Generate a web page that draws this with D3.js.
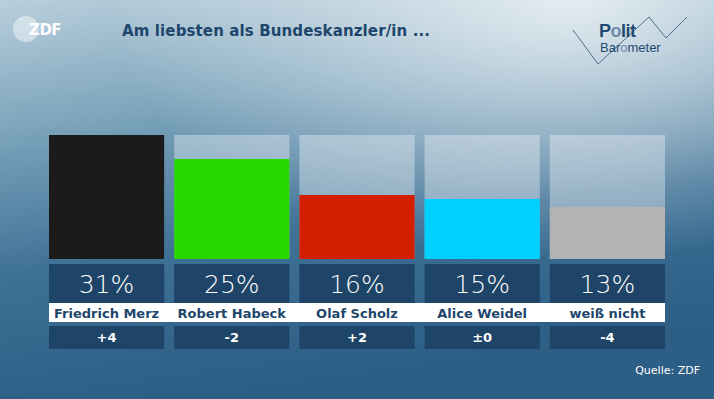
<!DOCTYPE html>
<html>
<head>
<meta charset="utf-8">
<script src="https://cdn.jsdelivr.net/npm/d3@7"></script>
<style>
html, body { margin: 0; padding: 0; overflow: hidden; }
svg { display: block; font-family: "DejaVu Sans", sans-serif; }
</style>
</head>
<body>
<div id="chart"></div>
<script>
// data
const names = ['Friedrich Merz', 'Robert Habeck', 'Olaf Scholz', 'Alice Weidel', 'weiß nicht'];
const values = [31, 25, 16, 15, 13];
const changes = ['+4', '-2', '+2', '±0', '-4'];
const colors = ['#1b1b1b', '#28d700', '#d41e00', '#00d0ff', '#b3b3b3'];

const width = 714, height = 399;
const svg = d3.select('#chart').append('svg')
	.attr('width', width)
	.attr('height', height);

const defs = svg.append('defs');
const bg = defs.append('linearGradient')
	.attr('id', 'bg')
	.attr('x1', 0).attr('y1', 0).attr('x2', 0.25).attr('y2', 1);
bg.append('stop').attr('offset', '0%').attr('stop-color', '#b9cfdc');
bg.append('stop').attr('offset', '30%').attr('stop-color', '#7ea6bd');
bg.append('stop').attr('offset', '65%').attr('stop-color', '#3f7196');
bg.append('stop').attr('offset', '100%').attr('stop-color', '#2c5e86');

const glow = defs.append('radialGradient')
	.attr('id', 'glow')
	.attr('cx', 0.8).attr('cy', 0.0).attr('r', 0.65);
glow.append('stop').attr('offset', '0%').attr('stop-color', '#ffffff').attr('stop-opacity', 0.75);
glow.append('stop').attr('offset', '100%').attr('stop-color', '#ffffff').attr('stop-opacity', 0);

svg.append('rect').attr('width', width).attr('height', height).attr('fill', 'url(#bg)');
svg.append('rect').attr('width', width).attr('height', height).attr('fill', 'url(#glow)');

// ZDF logo
const logo = svg.append('g').attr('transform', 'translate(26,29)');
logo.append('circle').attr('r', 13).attr('fill', '#ffffff').attr('fill-opacity', 0.45);
logo.append('text')
	.attr('x', 3).attr('y', 5.5)
	.attr('fill', '#ffffff')
	.attr('font-size', 15)
	.attr('font-weight', 'bold')
	.attr('letter-spacing', -0.5)
	.text('ZDF');

// title
svg.append('text')
	.attr('x', 122).attr('y', 36)
	.attr('fill', '#1e466b')
	.attr('font-size', 15)
	.attr('font-weight', 'bold')
	.attr('textLength', 308)
	.text('Am liebsten als Bundeskanzler/in ...');

// Politbarometer logo
const pb = svg.append('g');
pb.append('polyline')
	.attr('points', '573,30 598,64 649,17 666,38 687,17')
	.attr('fill', 'none')
	.attr('stroke', '#52708c')
	.attr('stroke-width', 1);
const polit = pb.append('text')
	.attr('x', 599).attr('y', 37)
	.attr('fill', '#1f4b73')
	.attr('font-family', '"Liberation Sans", Arial, sans-serif')
	.attr('font-size', 18)
	.attr('font-weight', 'bold')
	.attr('letter-spacing', -0.5);
polit.append('tspan').text('P');
polit.append('tspan').attr('fill', '#6f8ca8').text('o');
polit.append('tspan').text('lit');
const baro = pb.append('text')
	.attr('x', 600).attr('y', 52)
	.attr('fill', '#1f4b73')
	.attr('font-family', '"Liberation Sans", Arial, sans-serif')
	.attr('font-size', 13);
baro.append('tspan').text('Bar');
baro.append('tspan').attr('fill', '#6f8ca8').text('o');
baro.append('tspan').text('meter');

// scales
const x = d3.scaleBand()
	.domain(names)
	.range([49, 665])
	.paddingInner(10 / 125)
	.paddingOuter(0);
const y = d3.scaleLinear()
	.domain([0, d3.max(values)])
	.range([259, 135]);

// white name band
svg.append('rect')
	.attr('x', x(names[0]))
	.attr('y', 303)
	.attr('width', x(names[names.length - 1]) + x.bandwidth() - x(names[0]))
	.attr('height', 19)
	.attr('fill', '#ffffff');

const groups = svg.append('g')
	.selectAll('g')
	.data(names)
	.join('g')
	.attr('transform', d => `translate(${x(d)},0)`);

groups.append('rect')
	.attr('y', y.range()[1])
	.attr('width', x.bandwidth())
	.attr('height', y.range()[0] - y.range()[1])
	.attr('fill', '#ffffff')
	.attr('fill-opacity', 0.35);

groups.append('rect')
	.attr('y', (d, i) => y(values[i]))
	.attr('width', x.bandwidth())
	.attr('height', (d, i) => y(0) - y(values[i]))
	.attr('fill', (d, i) => colors[i]);

groups.append('rect')
	.attr('y', 264)
	.attr('width', x.bandwidth())
	.attr('height', 39)
	.attr('fill', '#1e4468');

groups.append('text')
	.attr('x', x.bandwidth() / 2)
	.attr('y', 293)
	.attr('text-anchor', 'middle')
	.attr('fill', '#ffffff')
	.attr('font-size', 25)
	.attr('font-weight', 300)
	.text((d, i) => values[i] + '%');

groups.append('text')
	.attr('x', x.bandwidth() / 2)
	.attr('y', 318)
	.attr('text-anchor', 'middle')
	.attr('fill', '#1e466b')
	.attr('font-size', 13)
	.attr('font-weight', 'bold')
	.text(d => d);

groups.append('rect')
	.attr('y', 326)
	.attr('width', x.bandwidth())
	.attr('height', 23)
	.attr('fill', '#1e4468');

groups.append('text')
	.attr('x', x.bandwidth() / 2)
	.attr('y', 342)
	.attr('text-anchor', 'middle')
	.attr('fill', '#ffffff')
	.attr('font-size', 13)
	.attr('font-weight', 'bold')
	.text((d, i) => changes[i]);

svg.append('text')
	.attr('x', 700).attr('y', 374)
	.attr('text-anchor', 'end')
	.attr('fill', '#ffffff')
	.attr('font-size', 11)
	.text('Quelle: ZDF');
</script>
</body>
</html>
